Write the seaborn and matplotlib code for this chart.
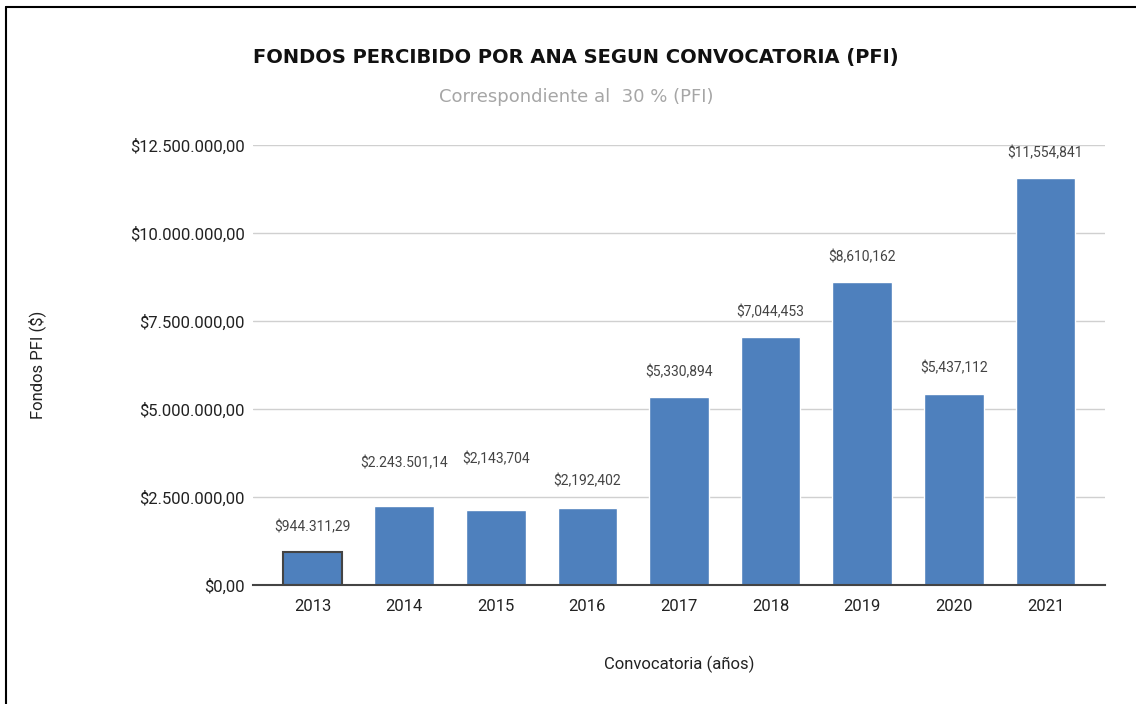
import numpy as np
import pandas as pd
import seaborn as sns
import matplotlib.pyplot as plt
from matplotlib.lines import Line2D

sns.set_style("white")
plt.rcParams['font.family'] = ['Roboto', 'DejaVu Sans']

years = ['2013', '2014', '2015', '2016', '2017', '2018', '2019', '2020', '2021']
fondos = [944311.29, 2243501.14, 2143704, 2192402, 5330894, 7044453, 8610162, 5437112, 11554841]
etiquetas = ['$944.311,29', '$2.243.501,14', '$2,143,704', '$2,192,402', '$5,330,894',
             '$7,044,453', '$8,610,162', '$5,437,112', '$11,554,841']
yticks = [0, 2500000, 5000000, 7500000, 10000000, 12500000]

df = pd.DataFrame({'Convocatoria': years, 'Fondos': fondos})

fig = plt.figure(figsize=(11.36, 7.04), dpi=100)
ax = fig.add_axes([0.2227, 0.169, 0.75, 0.625])
sns.barplot(x='Convocatoria', y='Fondos', data=df, color='#4e80bd', saturation=1,
            width=0.65, ax=ax)

# primera barra con borde oscuro
ax.patches[0].set_edgecolor('#444444')
ax.patches[0].set_linewidth(1.5)

# separacion de etiquetas (en puntos) para que no se encimen
desplaz = [18, 31, 36, 19, 18, 18, 18, 18, 18]
for i, (v, t) in enumerate(zip(fondos, etiquetas)):
    ax.annotate(t, (i, v), xytext=(0, desplaz[i]), textcoords='offset points',
                ha='center', va='center', fontsize=10, color='#444444')

ax.set_ylim(0, 12500000)
ax.set_yticks(yticks)
ax.set_yticklabels(['$' + f"{v:,.2f}".replace(',', 'X').replace('.', ',').replace('X', '.') for v in yticks],
                   fontsize=12, color='#222222')
ax.tick_params(axis='x', labelsize=12, colors='#222222', length=0, pad=10)
ax.tick_params(axis='y', length=0, pad=6)
ax.yaxis.grid(True, color='#d0d0d0', linewidth=1)
ax.set_axisbelow(True)
for s in ['top', 'right', 'left']:
    ax.spines[s].set_visible(False)
ax.spines['bottom'].set_color('#444444')
ax.spines['bottom'].set_linewidth(1.5)
ax.set_xlim(-0.65, 8.65)

ax.set_xlabel('Convocatoria (años)', fontsize=12, color='#222222', labelpad=30)
ax.set_ylabel('Fondos PFI ($)', fontsize=12, color='#222222')
ax.yaxis.set_label_coords(-0.243, 0.5)

fig.text(0.507, 0.918, 'FONDOS PERCIBIDO POR ANA SEGUN CONVOCATORIA (PFI)',
         ha='center', va='center', fontsize=14, fontweight='bold',
         family=['Liberation Sans Narrow', 'DejaVu Sans'], color='#111111')
fig.text(0.507, 0.862, 'Correspondiente al  30 % (PFI)', ha='center', va='center',
         fontsize=13, family=['Liberation Sans Narrow', 'DejaVu Sans'], color='#a6a6a6')

# marco de la imagen
fig.add_artist(Line2D([0.005, 0.005], [0.0, 0.99], color='black', linewidth=1.5, transform=fig.transFigure))
fig.add_artist(Line2D([0.005, 1.0], [0.99, 0.99], color='black', linewidth=1.5, transform=fig.transFigure))

fig.savefig('out.png', dpi=100)
